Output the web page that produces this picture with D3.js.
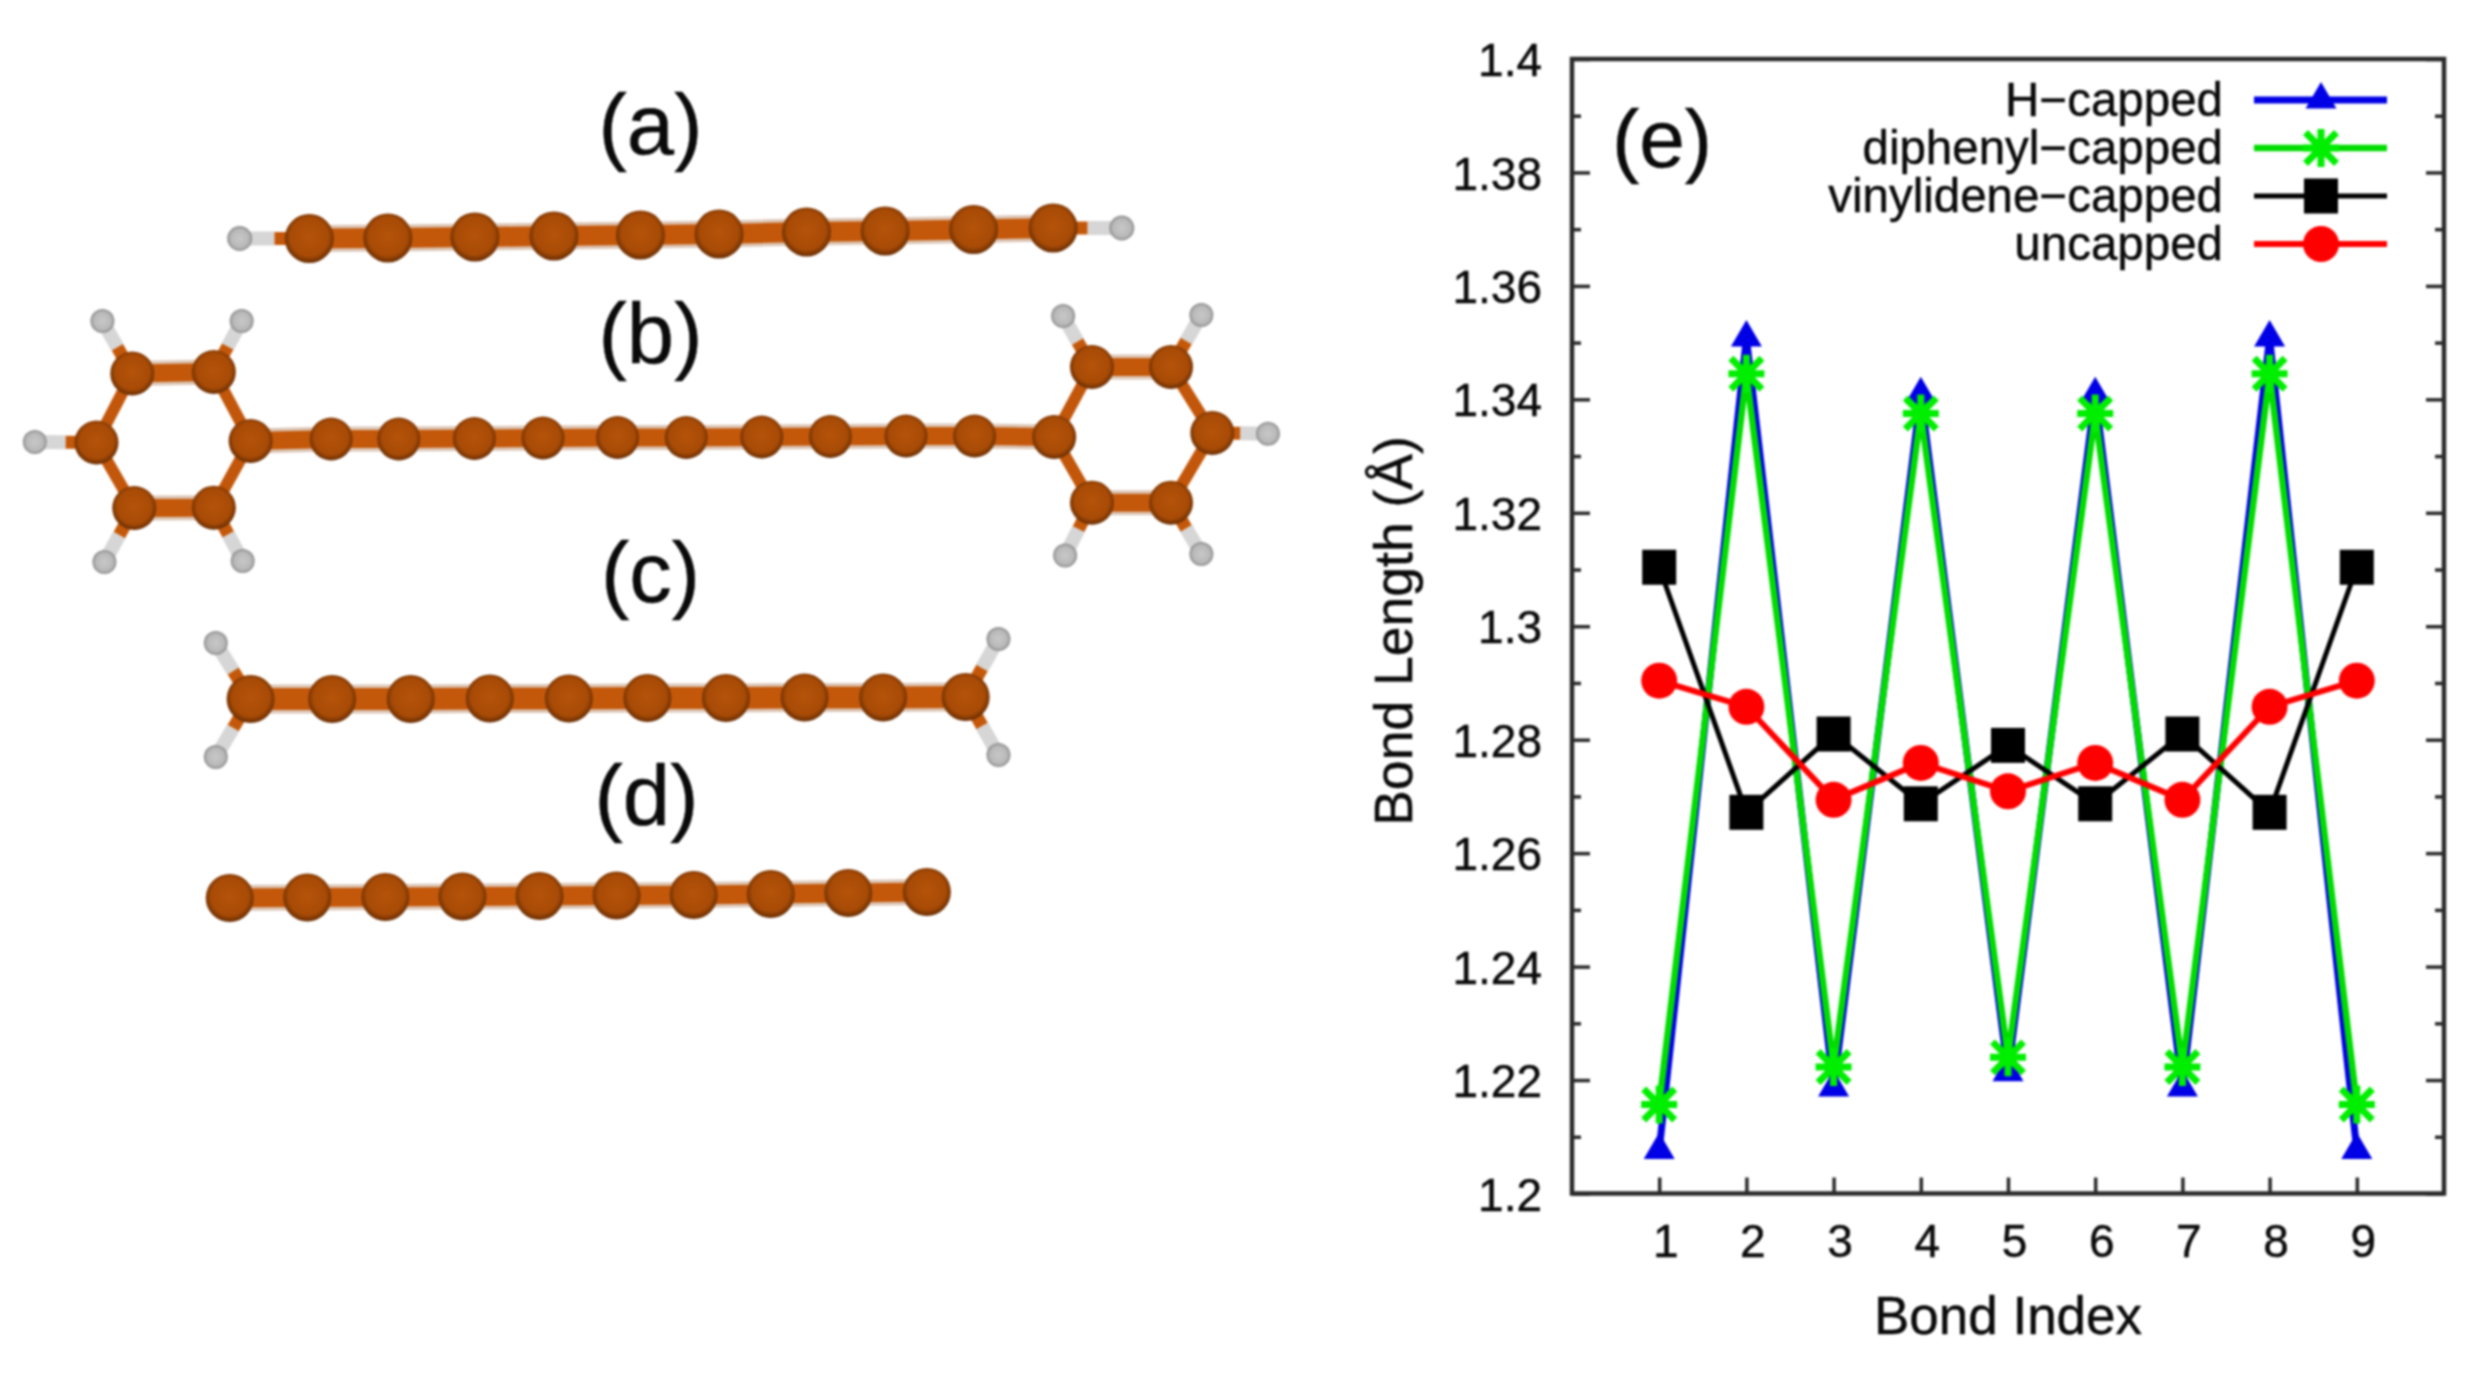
<!DOCTYPE html>
<html><head><meta charset="utf-8">
<script src="https://cdn.jsdelivr.net/npm/d3@7/dist/d3.min.js"></script>
<style>html,body{margin:0;padding:0;background:#fff}svg{display:block;filter:blur(1.1px)}text{font-family:"Liberation Sans",Arial,sans-serif;fill:#0a0a0a;stroke:#0a0a0a;stroke-width:.45px}</style>
</head><body><div id="c"></div>
<script>
// ---------- chart data ----------
const bondIndex = [1,2,3,4,5,6,7,8,9];
const hCapped = [1.2076,1.3508,1.2186,1.3408,1.2213,1.3408,1.2186,1.3508,1.2076];
const diphenylCapped = [1.2157,1.3445,1.2223,1.3375,1.224,1.3375,1.2223,1.3445,1.2157];
const vinylideneCapped = [1.3104,1.2672,1.281,1.2687,1.279,1.2687,1.281,1.2672,1.3104];
const uncapped = [1.2904,1.2858,1.2694,1.2759,1.2709,1.2759,1.2694,1.2858,1.2904];
const seriesNames = ["H\u2212capped","diphenyl\u2212capped","vinylidene\u2212capped","uncapped"];
const yTicks = [1.2,1.22,1.24,1.26,1.28,1.3,1.32,1.34,1.36,1.38,1.4];
const yMinorTicks = [1.21,1.23,1.25,1.27,1.29,1.31,1.33,1.35,1.37,1.39];
const panelLabels = ["(a)","(b)","(c)","(d)"];

// ---------- molecule data (atom centres) ----------
const chainA = [[311,238.5],[390,238],[477.5,237],[557,236],[644,235],[723,234],[811,232],[890,231],[979,229.5],[1059,228]];
const capsA = [[[311,238.5],[241,238.5]],[[1059,228],[1128,228]]];
const chainB = [[252,441],[333,439],[401,439],[477,438.5],[546,438],[621,437.5],[690,437.5],[766,437],[835,436.5],[911,436],[980,436],[1060,437]];
const ringBL = [[252,441],[215,372],[133,373.5],[97,442.5],[135,508],[215,507.7]];
const ringBR = [[1060,437],[1098,367],[1177.5,367],[1219,433],[1177.5,502.7],[1098,502.7]];
const capsB = [[[97,442.5],[35,442]],[[133,373.5],[103,321]],[[215,372],[243,321]],[[135,508],[105,562]],[[215,507.7],[244,561]],
               [[1219,433],[1275,433.7]],[[1098,367],[1069,316]],[[1177.5,367],[1208,315]],[[1098,502.7],[1071,555.5]],[[1177.5,502.7],[1208,554]]];
const chainC = [[252,699],[334,699],[413,699],[492.5,698.5],[572,698.5],[651,698],[730,698],[809,697.5],[888,697.5],[971,697]];
const capsC = [[[252,699],[217,643]],[[252,699],[217,757]],[[971,697],[1004,639]],[[971,697],[1004,755]]];
const chainD = [[231,898],[309,897.5],[387.5,897],[465,896.5],[542.5,896],[620,895.5],[697.5,895],[775,894],[853,893],[932,892]];

const W = 2476, H = 1384;
const svg = d3.select("#c").append("svg").attr("width",W).attr("height",H).attr("viewBox",`0 0 ${W} ${H}`);
const defs = svg.append("defs");
const grad = defs.append("radialGradient").attr("id","cAtom").attr("cx","50%").attr("cy","47%").attr("r","53%");
grad.append("stop").attr("offset","0%").attr("stop-color","#b5530a");
grad.append("stop").attr("offset","74%").attr("stop-color","#a84b06");
grad.append("stop").attr("offset","100%").attr("stop-color","#662c02");
const hgrad = defs.append("radialGradient").attr("id","hAtom").attr("cx","50%").attr("cy","50%").attr("r","52%");
hgrad.append("stop").attr("offset","0%").attr("stop-color","#c8c8c8");
hgrad.append("stop").attr("offset","70%").attr("stop-color","#b8b8b8");
hgrad.append("stop").attr("offset","100%").attr("stop-color","#858585");

// ---------- molecules ----------
const mx = d3.scaleLinear().domain([0,W]).range([0,W*0.9945]);
const my = d3.scaleLinear().domain([0,H]).range([0,H]);
const mol = svg.append("g");
function seg(a,b,w,col){
  mol.append("line").attr("x1",mx(a[0])).attr("y1",my(a[1])).attr("x2",mx(b[0])).attr("y2",my(b[1])).attr("stroke",col).attr("stroke-width",w);
}
function bond(a,b,w){
  seg(a,b,w+7,"#dcc6b6");
  seg(a,b,w,"#c4580a");
}
function cap(p){
  const [c,h]=p, mid=[(c[0]+h[0])/2,(c[1]+h[1])/2];
  seg(mid,h,14,"#d6d6d6");
  seg(c,mid,13,"#c4580a");
}
function atoms(list,r,fill){
  mol.selectAll(null).data(list).enter().append("circle")
    .attr("cx",d=>mx(d[0])).attr("cy",d=>my(d[1])).attr("r",r).attr("fill",fill);
}
function chain(list,w){ d3.pairs(list).forEach(([a,b])=>bond(a,b,w)); }
function ring(list){
  list.forEach((a,i)=>{const b=list[(i+1)%list.length];
    if(i===1||i===4) bond(a,b,18); else seg(a,b,12,"#c2560a");
  });
}
capsA.forEach(cap); chain(chainA,20); atoms(capsA.map(d=>d[1]),12.5,"url(#hAtom)"); atoms(chainA,24.5,"url(#cAtom)");
capsB.forEach(cap); chain(chainB,18); ring(ringBL); ring(ringBR);
atoms(capsB.map(d=>d[1]),12,"url(#hAtom)"); atoms(chainB.slice(1,-1),21.5,"url(#cAtom)");
atoms(ringBL,22,"url(#cAtom)"); atoms(ringBR,22,"url(#cAtom)");
capsC.forEach(cap); chain(chainC,22); atoms(capsC.map(d=>d[1]),12,"url(#hAtom)"); atoms(chainC,24,"url(#cAtom)");
chain(chainD,19); atoms(chainD,24,"url(#cAtom)");

// panel labels
const labelX = [650.5,650.5,650.5,646.5], labelY = [154,363,602,825];
svg.selectAll("text.panel").data(panelLabels).enter().append("text").attr("class","panel")
  .attr("x",(d,i)=>labelX[i]).attr("y",(d,i)=>labelY[i]).attr("text-anchor","middle").attr("font-size",85).text(d=>d);

// ---------- line chart ----------
const m = {l:1572,r:2444,t:59,b:1193.5};
const x = d3.scaleLinear().domain([0,10]).range([m.l,m.r]);
const y = d3.scaleLinear().domain([1.2,1.4]).range([m.b,m.t]);
const axisCol = "#2a2a2a";

function styleAxis(g){ g.select(".domain").remove(); g.selectAll("line").attr("stroke",axisCol).attr("stroke-width",3.5); }
svg.append("g").attr("transform",`translate(${m.l},0)`)
  .call(d3.axisLeft(y).tickValues(yTicks).tickSize(-18).tickPadding(30).tickFormat(d3.format("~g")))
  .call(styleAxis).call(g=>g.selectAll("text").attr("font-size",46).attr("dy","0.36em"));
svg.append("g").attr("transform",`translate(${m.l},0)`)
  .call(d3.axisLeft(y).tickValues(yMinorTicks).tickSize(-9).tickFormat(""))
  .call(styleAxis);
svg.append("g").attr("transform",`translate(${m.r},0)`)
  .call(d3.axisRight(y).tickValues(yTicks).tickSize(-18).tickFormat(""))
  .call(styleAxis);
svg.append("g").attr("transform",`translate(${m.r},0)`)
  .call(d3.axisRight(y).tickValues(yMinorTicks).tickSize(-9).tickFormat(""))
  .call(styleAxis);
svg.append("g").attr("transform",`translate(0,${m.b})`)
  .call(d3.axisBottom(x).tickValues(bondIndex).tickSize(-16).tickPadding(30).tickFormat(d3.format("d")))
  .call(styleAxis).call(g=>g.selectAll("text").attr("font-size",46).attr("dx",6).attr("dy","0.72em"));
svg.append("rect").attr("x",m.l).attr("y",m.t).attr("width",m.r-m.l).attr("height",m.b-m.t)
  .attr("fill","none").attr("stroke",axisCol).attr("stroke-width",4.5);

svg.append("text").attr("x",2008).attr("y",1334).attr("text-anchor","middle").attr("font-size",53).text("Bond Index");
svg.append("text").attr("transform","translate(1412,631) rotate(-90)").attr("text-anchor","middle").attr("font-size",53.5).text("Bond Length (\u00c5)");
svg.append("text").attr("x",1662).attr("y",167).attr("text-anchor","middle").attr("font-size",82).text("(e)");

const symbols = {
  tri:(g,c)=>g.append("path").attr("d","M0,-18L15.5,8.5L-15.5,8.5Z").attr("fill",c),
  star:(g,c)=>g.append("path").attr("d","M0,-19V19M-18,0H18M-15.5,-15.5L15.5,15.5M-15.5,15.5L15.5,-15.5").attr("stroke",c).attr("stroke-width",7).attr("fill","none"),
  square:(g,c)=>g.append("rect").attr("x",-17).attr("y",-17.5).attr("width",34).attr("height",35).attr("fill",c),
  circle:(g,c)=>g.append("circle").attr("r",18).attr("fill",c)
};
const seriesStyle = [
  {values:hCapped,color:"#0000e6",lw:7,sym:"tri"},
  {values:diphenylCapped,color:"#00dc00",lw:6.5,sym:"star",mcolor:"#00ee00"},
  {values:vinylideneCapped,color:"#000000",lw:5,sym:"square"},
  {values:uncapped,color:"#ff0000",lw:6,sym:"circle"}
];
const line = d3.line().x((d,i)=>x(bondIndex[i])).y(d=>y(d));
const plot = svg.append("g");
seriesStyle.forEach(s=>{
  plot.append("path").attr("d",line(s.values)).attr("fill","none").attr("stroke",s.color).attr("stroke-width",s.lw).attr("stroke-linejoin","miter").attr("stroke-miterlimit",2);
  s.values.forEach((v,i)=>{
    const g=plot.append("g").attr("transform",`translate(${x(bondIndex[i])},${y(v)})`);
    symbols[s.sym](g,s.mcolor||s.color);
  });
});

// legend
const legY = d3.scaleLinear().domain([0,3]).range([100,244]);
const leg = svg.append("g");
seriesNames.forEach((n,i)=>{
  const s=seriesStyle[i], yy=legY(i);
  leg.append("text").attr("x",2223).attr("y",yy+16).attr("text-anchor","end").attr("font-size",47.5).text(n);
  leg.append("line").attr("x1",2254).attr("x2",2387).attr("y1",yy).attr("y2",yy).attr("stroke",s.color).attr("stroke-width",s.lw);
  const g=leg.append("g").attr("transform",`translate(2321,${yy})`);
  symbols[s.sym](g,s.mcolor||s.color);
});
</script></body></html>
